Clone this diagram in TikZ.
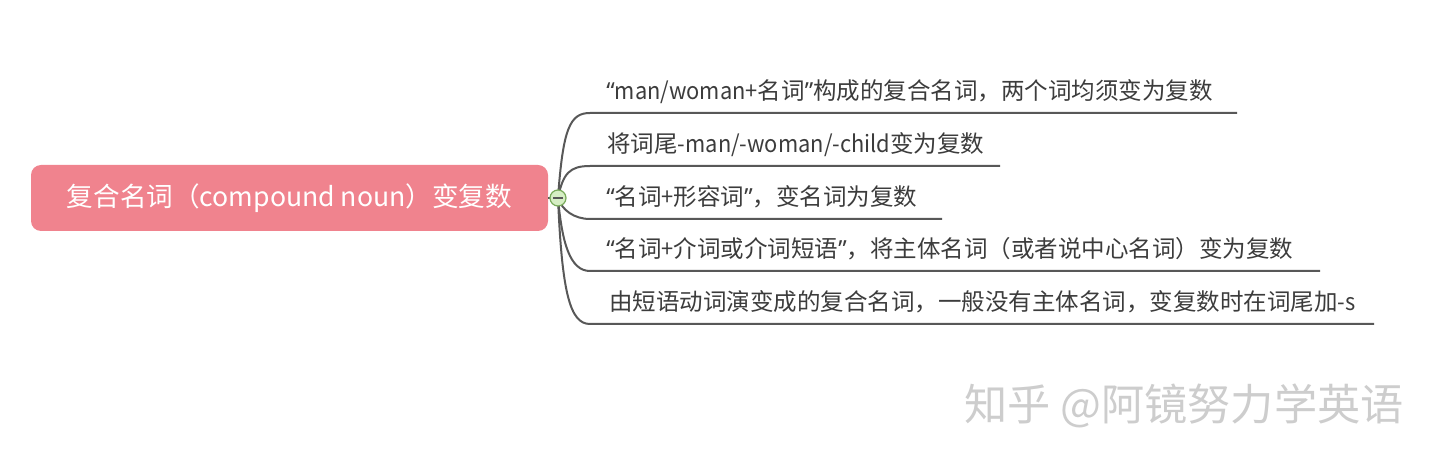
\documentclass[tikz,border=0pt]{standalone}
\usepackage{fontspec}
\setmainfont{Noto Sans CJK SC}
\newfontfamily\cjk{Noto Sans CJK SC}
\newfontfamily\lat[FakeStretch=0.93]{Noto Sans CJK SC}
\newfontfamily\qt{Noto Sans}
\newcommand{\myLq}{{\qt “}}
\newcommand{\myRq}{{\qt ”}}
\definecolor{rootpink}{RGB}{240,131,142}
\definecolor{linegray}{RGB}{88,88,88}
\definecolor{txtgray}{RGB}{60,60,60}
\definecolor{togfill}{RGB}{214,238,196}
\definecolor{togdraw}{RGB}{120,170,90}
\definecolor{wmgray}{RGB}{205,205,205}
\tikzset{
  rootbox/.style={fill=rootpink,rounded corners=5pt,minimum width=258.5pt,minimum height=33pt,inner sep=0pt,text=white,font=\cjk\fontsize{13.3pt}{15pt}\selectfont},
  leaf/.style={anchor=base west,inner sep=0pt,text=txtgray,font=\cjk\fontsize{11.75pt}{13pt}\selectfont},
  branch/.style={draw=linegray,line width=1pt},
  toggle/.style={circle,fill=togfill,draw=togdraw,line width=0.6pt,minimum size=8pt,inner sep=0pt},
  wmark/.style={anchor=base west,inner sep=0pt,text=wmgray,font=\cjk\fontsize{21.6pt}{23pt}\selectfont}
}
\begin{document}
\begin{tikzpicture}[x=0.5pt,y=-0.5pt]
\useasboundingbox (0,0) rectangle (1440,464);
\node[rootbox] (root) at (289.5,198) {};
\node[anchor=base,inner sep=0pt,text=white,font=\cjk\fontsize{13.3pt}{15pt}\selectfont] (roottxt) at (289.5,207) {复合名词（compound noun）变复数};
\coordinate (hub) at (558,198);
% underline coordinates
\coordinate (u1s) at (590,113); \coordinate (u1e) at (1237,113);
\coordinate (u2s) at (590,166); \coordinate (u2e) at (1000,166);
\coordinate (u3s) at (590,219); \coordinate (u3e) at (942,219);
\coordinate (u4s) at (590,271); \coordinate (u4e) at (1320,271);
\coordinate (u5s) at (590,324); \coordinate (u5e) at (1374,324);
\draw[branch] (root.east) -- (hub);
\draw[branch] (hub) .. controls +(5,-70) and +(-20,0) .. (u1s) -- (u1e);
\draw[branch] (hub) .. controls +(5,-25) and +(-20,0) .. (u2s) -- (u2e);
\draw[branch] (hub) .. controls +(4,12) and +(-16,0) .. (u3s) -- (u3e);
\draw[branch] (hub) .. controls +(4,45) and +(-20,0) .. (u4s) -- (u4e);
\draw[branch] (hub) .. controls +(4,95) and +(-20,0) .. (u5s) -- (u5e);
\node[toggle] (tog) at (hub) {};
\draw[draw=linegray,line width=0.6pt] ([xshift=-2.3pt]tog.center) -- ([xshift=2.3pt]tog.center);
\node[leaf] (b1) at (606,100) {\myLq{\lat man/woman+}名词\myRq 构成的复合名词，两个词均须变为复数};
\node[leaf] (b2) at (607,153) {将词尾{\lat -man/-woman/-child}变为复数};
\node[leaf] (b3) at (606,206) {\myLq 名词{\lat +}形容词\myRq，变名词为复数};
\node[leaf] (b4) at (606,258) {\myLq 名词{\lat +}介词或介词短语\myRq，将主体名词（或者说中心名词）变为复数};
\node[leaf] (b5) at (609,311) {由短语动词演变成的复合名词，一般没有主体名词，变复数时在词尾加{\lat -s}};
\node[wmark] (wm) at (964,421) {知乎 @阿镜努力学英语};
\end{tikzpicture}
\end{document}
